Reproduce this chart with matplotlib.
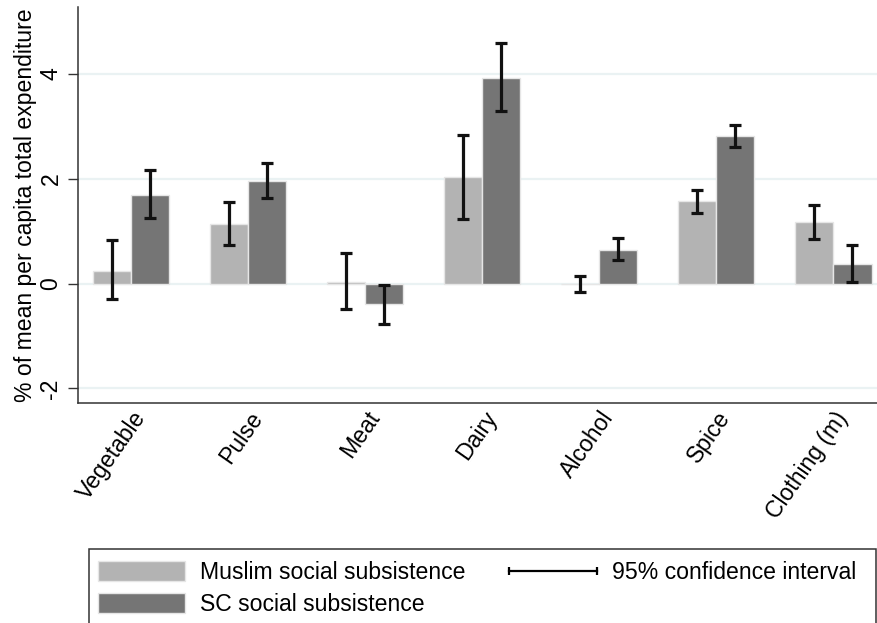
import matplotlib
matplotlib.use('agg')
import numpy as np
import matplotlib.pyplot as plt
from matplotlib.lines import Line2D
from matplotlib.patches import Patch, Rectangle
from matplotlib.legend_handler import HandlerBase

plt.rcParams['font.family'] = ['Liberation Sans', 'DejaVu Sans']

categories = ["Vegetable", "Pulse", "Meat", "Dairy", "Alcohol", "Spice", "Clothing (m)"]
muslim = [0.25, 1.13, 0.03, 2.04, 0.0, 1.57, 1.17]
muslim_lo = [-0.30, 0.73, -0.49, 1.24, -0.15, 1.34, 0.86]
muslim_hi = [0.83, 1.56, 0.58, 2.84, 0.15, 1.79, 1.51]
sc = [1.69, 1.96, -0.38, 3.92, 0.65, 2.81, 0.38]
sc_lo = [1.25, 1.63, -0.76, 3.29, 0.45, 2.61, 0.03]
sc_hi = [2.16, 2.31, -0.03, 4.59, 0.87, 3.03, 0.74]

fontsize = 16.6
light = '#b3b3b3'
dark = '#757575'

class CIHandler(HandlerBase):
	def create_artists(self, legend, orig_handle, xdescent, ydescent, width, height, fontsize, trans):
		y = height / 2 - ydescent
		x0, x1 = -xdescent, -xdescent + width
		line = Line2D([x0, x1], [y, y], color='black', lw=1.6, transform=trans)
		caps = Line2D([x0, x1], [y, y], ls='none', marker='|', markersize=6, markeredgewidth=1.6, color='black', transform=trans)
		return [line, caps]

fig = plt.figure(figsize=(8.77, 6.23), dpi=100)
ax = fig.add_axes([78/877, 1-403/623, 799/877, 396/623])

x = np.arange(len(categories))
w = 0.325
ax.bar(x - w/2, muslim, w, color=light, edgecolor='#e6e6e6', linewidth=1, zorder=2)
ax.bar(x + w/2, sc, w, color=dark, edgecolor='#e6e6e6', linewidth=1, zorder=2)

m = np.array(muslim); s = np.array(sc)
ax.errorbar(x - w/2, m, yerr=[m - np.array(muslim_lo), np.array(muslim_hi) - m], fmt='none',
	ecolor='#111111', elinewidth=2.3, capsize=4, capthick=2.3, zorder=3)
ax.errorbar(x + w/2, s, yerr=[s - np.array(sc_lo), np.array(sc_hi) - s], fmt='none',
	ecolor='#111111', elinewidth=2.3, capsize=4, capthick=2.3, zorder=3)

ax.set_xlim(-0.457, 6.372)
ax.set_ylim(-2.277, 5.28)
ax.set_yticks([-2, 0, 2, 4])
ax.set_yticklabels(['-2', '0', '2', '4'], rotation=90, va='center', fontsize=fontsize)
ax.tick_params(axis='y', length=7.2, width=1, color='#333333', pad=4)
ax.set_xticks(x)
ax.set_xticklabels(categories, rotation=55, ha='right', rotation_mode='anchor', fontsize=fontsize)
ax.tick_params(axis='x', length=0, pad=3)
ax.yaxis.grid(True, color='#eaf2f3', lw=1.6)
ax.set_axisbelow(True)
for side in ['top', 'right']:
	ax.spines[side].set_visible(False)
for side in ['left', 'bottom']:
	ax.spines[side].set_color('#333333')
	ax.spines[side].set_linewidth(1.1)
ax.set_ylabel("% of mean per capita total expenditure", fontsize=fontsize, labelpad=2)

# legend frame runs past the bottom of the figure like the original
fig.patches.append(Rectangle((89/877, -0.05), 787/877, 0.05 + 1 - 549/623, transform=fig.transFigure,
	facecolor='white', edgecolor='#333333', linewidth=1.1))
handles = [Patch(facecolor=light, edgecolor='#e6e6e6'), Patch(facecolor=dark, edgecolor='#e6e6e6'), object()]
labels = ["Muslim social subsistence", "SC social subsistence", "95% confidence interval"]
fig.legend(handles, labels, loc='upper left', bbox_to_anchor=(98/877, 1-561/623), ncol=2,
	frameon=False, fontsize=fontsize, borderpad=0, borderaxespad=0, handlelength=3.78,
	handleheight=0.96, handletextpad=0.65, labelspacing=0.4, columnspacing=1.9,
	handler_map={object: CIHandler()})

plt.savefig("out.png", dpi=100)
